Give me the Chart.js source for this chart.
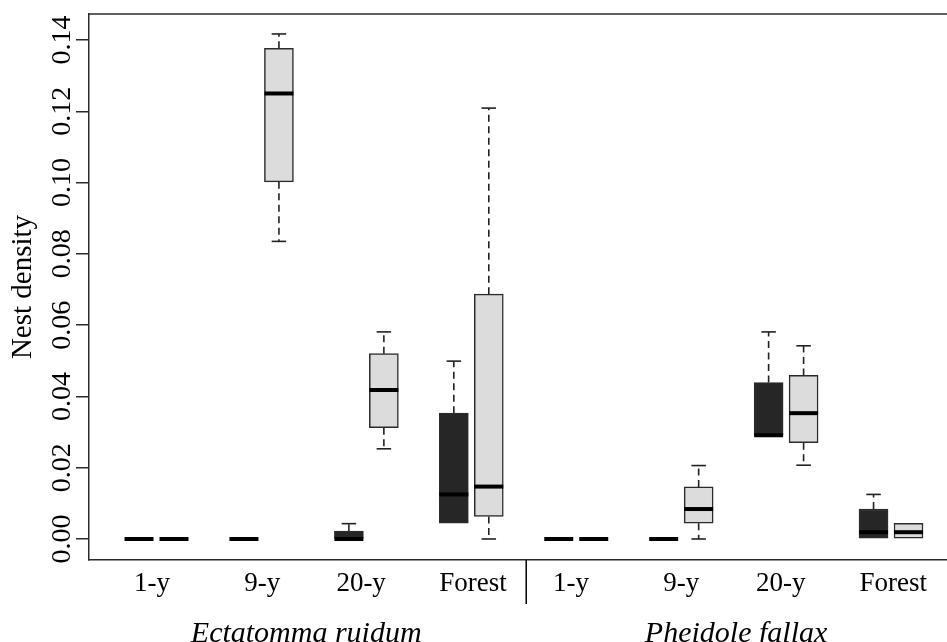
<!DOCTYPE html>
<html>
<head>
<meta charset="utf-8">
<script src="https://cdn.jsdelivr.net/npm/chart.js@4/dist/chart.umd.min.js"></script>
<style>
  html, body { margin: 0; padding: 0; background: #fff; }
  #wrap { width: 947px; height: 642px; position: relative; }
</style>
</head>
<body>
<div id="wrap"><canvas id="boxChart"></canvas></div>
<script>
// data: [min, q1, median, q3, max] per box
var sites = ['1-y', '9-y', '20-y', 'Forest'];
var species = ['Ectatomma ruidum', 'Pheidole fallax'];
var yTickValues = [0, 0.02, 0.04, 0.06, 0.08, 0.10, 0.12, 0.14];
var yTickLabels = ['0.00', '0.02', '0.04', '0.06', '0.08', '0.10', '0.12', '0.14'];

// dark boxes, 8 groups (4 sites x 2 species)
var darkBoxes = [
  [0, 0, 0, 0, 0],
  [0, 0, 0, 0, 0],
  [0, 0, 0, 0.0022, 0.0043],
  [0.0044, 0.0044, 0.0125, 0.0353, 0.0499],
  [0, 0, 0, 0, 0],
  [0, 0, 0, 0, 0],
  [0.0291, 0.0291, 0.0291, 0.0439, 0.0581],
  [0, 0, 0.0019, 0.0084, 0.0125]
];
// light boxes
var lightBoxes = [
  [0, 0, 0, 0, 0],
  [0.0835, 0.1002, 0.1250, 0.1377, 0.1417],
  [0.0253, 0.0312, 0.0418, 0.0520, 0.0581],
  [0, 0.0063, 0.0147, 0.0687, 0.1209],
  [0, 0, 0, 0, 0],
  [0, 0.0044, 0.0084, 0.0146, 0.0206],
  [0.0207, 0.0270, 0.0353, 0.0459, 0.0542],
  [0, 0, 0.0019, 0.0044, 0.0044]
];

// layout (x units: one box slot = 1, groups 3 apart)
var X_MIN = -0.43, X_MAX = 24.1;
var Y_MIN = -0.0059, Y_MAX = 0.1473;
var siteLabelPos = [1.37, 4.52, 7.35, 10.55, 13.35, 16.5, 19.35, 22.56];
var speciesLabelPos = [5.78, 18.07];
var SEPARATOR_AT = 12.07;
var BOX_W = 29;
var SERIF = "'Liberation Serif', 'Times New Roman', serif";

function boxPos(series, i) { return 1 + 3 * i + series; }

function toBars(boxes, series) {
  return boxes.map(function(b, i) {
    return { x: boxPos(series, i), y: [b[1], b[3]] };
  });
}

var allBoxes = [darkBoxes, lightBoxes];

var boxPlugin = {
  id: 'boxParts',
  beforeDatasetsDraw: function(chart) {
    // whiskers and caps go under the boxes
    var ctx = chart.ctx, xs = chart.scales.x, ys = chart.scales.y;
    ctx.save();
    ctx.strokeStyle = '#222';
    ctx.lineWidth = 1.6;
    allBoxes.forEach(function(boxes, s) {
      boxes.forEach(function(b, i) {
        var px = xs.getPixelForValue(boxPos(s, i));
        var half = BOX_W / 4;
        [[b[3], b[4]], [b[1], b[0]]].forEach(function(seg) {
          if (seg[0] === seg[1]) return;
          var y1 = ys.getPixelForValue(seg[0]), y2 = ys.getPixelForValue(seg[1]);
          ctx.setLineDash([7, 4.5]);
          ctx.beginPath(); ctx.moveTo(px, y1); ctx.lineTo(px, y2); ctx.stroke();
          ctx.setLineDash([]);
          ctx.beginPath(); ctx.moveTo(px - half, y2); ctx.lineTo(px + half, y2); ctx.stroke();
        });
      });
    });
    ctx.restore();
  },
  afterDatasetsDraw: function(chart) {
    // medians
    var ctx = chart.ctx, xs = chart.scales.x, ys = chart.scales.y;
    ctx.save();
    ctx.strokeStyle = '#000';
    ctx.lineWidth = 4;
    ctx.lineCap = 'butt';
    allBoxes.forEach(function(boxes, s) {
      boxes.forEach(function(b, i) {
        var px = xs.getPixelForValue(boxPos(s, i));
        var py = ys.getPixelForValue(b[2]);
        ctx.beginPath(); ctx.moveTo(px - BOX_W / 2, py); ctx.lineTo(px + BOX_W / 2, py); ctx.stroke();
      });
    });
    ctx.restore();
  },
  afterDraw: function(chart) {
    var ctx = chart.ctx, a = chart.chartArea, xs = chart.scales.x, ys = chart.scales.y;
    ctx.save();
    // top frame line
    ctx.strokeStyle = '#2b2b2b';
    ctx.lineWidth = 1.5;
    ctx.beginPath(); ctx.moveTo(a.left, a.top); ctx.lineTo(a.right, a.top); ctx.stroke();
    // separator between the two species
    var sx = xs.getPixelForValue(SEPARATOR_AT);
    ctx.strokeStyle = '#000';
    ctx.beginPath(); ctx.moveTo(sx, a.bottom); ctx.lineTo(sx, a.bottom + 44); ctx.stroke();
    // rotated y tick labels (R style)
    ctx.fillStyle = '#000';
    ctx.font = "28px " + SERIF;
    ctx.textAlign = 'center';
    ctx.textBaseline = 'alphabetic';
    yTickValues.forEach(function(v, i) {
      ctx.save();
      ctx.translate(70, ys.getPixelForValue(v));
      ctx.rotate(-Math.PI / 2);
      ctx.fillText(yTickLabels[i], 0, 0);
      ctx.restore();
    });
    ctx.restore();
  }
};

var ctx = document.getElementById('boxChart').getContext('2d');
var chart = new Chart(ctx, {
  type: 'bar',
  data: {
    datasets: [{
      label: 'dark',
      data: toBars(darkBoxes, 0),
      backgroundColor: '#262626',
      borderColor: '#2b2b2b',
      borderWidth: 1.5,
      borderSkipped: false,
      barThickness: BOX_W,
      grouped: false
    }, {
      label: 'light',
      data: toBars(lightBoxes, 1),
      backgroundColor: '#dcdcdc',
      borderColor: '#2b2b2b',
      borderWidth: 1.5,
      borderSkipped: false,
      barThickness: BOX_W,
      grouped: false
    }]
  },
  options: {
    responsive: true,
    maintainAspectRatio: false,
    animation: false,
    layout: { padding: { top: 14, right: 0, left: 0, bottom: 0 } },
    plugins: { legend: { display: false }, tooltip: { enabled: false } },
    scales: {
      x: {
        type: 'linear',
        position: 'bottom',
        weight: 0,
        min: X_MIN, max: X_MAX,
        offset: false,
        grid: { display: false, offset: false, drawTicks: false },
        border: { display: true, color: '#2b2b2b', width: 1.5 },
        afterBuildTicks: function(scale) {
          scale.ticks = siteLabelPos.map(function(v) { return { value: v }; });
        },
        afterFit: function(scale) { scale.height = 45; },
        ticks: {
          autoSkip: false, maxRotation: 0, minRotation: 0, padding: 8,
          color: '#000',
          font: { family: SERIF, size: 27 },
          callback: function(value, index) { return sites[index % 4]; }
        }
      },
      xg: {
        type: 'linear',
        position: 'bottom',
        weight: 1,
        min: X_MIN, max: X_MAX,
        offset: false,
        grid: { display: false, drawTicks: false },
        border: { display: false },
        afterBuildTicks: function(scale) {
          scale.ticks = speciesLabelPos.map(function(v) { return { value: v }; });
        },
        afterFit: function(scale) { scale.height = 37; },
        ticks: {
          autoSkip: false, maxRotation: 0, minRotation: 0, padding: 11,
          color: '#000',
          font: { family: SERIF, size: 30, style: 'italic' },
          callback: function(value, index) { return species[index]; }
        }
      },
      y: {
        type: 'linear',
        position: 'left',
        min: Y_MIN, max: Y_MAX,
        afterBuildTicks: function(scale) {
          scale.ticks = yTickValues.map(function(v) { return { value: v }; });
        },
        afterFit: function(scale) { scale.width = 89; },
        grid: { drawOnChartArea: false, drawTicks: true, tickLength: 13, color: '#2b2b2b', lineWidth: 1.5 },
        border: { display: true, color: '#2b2b2b', width: 1.5 },
        ticks: { display: false },
        title: {
          display: true,
          text: 'Nest density',
          color: '#000',
          font: { family: SERIF, size: 29 },
          padding: { top: 6, bottom: 0 }
        }
      }
    }
  },
  plugins: [boxPlugin]
});
</script>
</body>
</html>
